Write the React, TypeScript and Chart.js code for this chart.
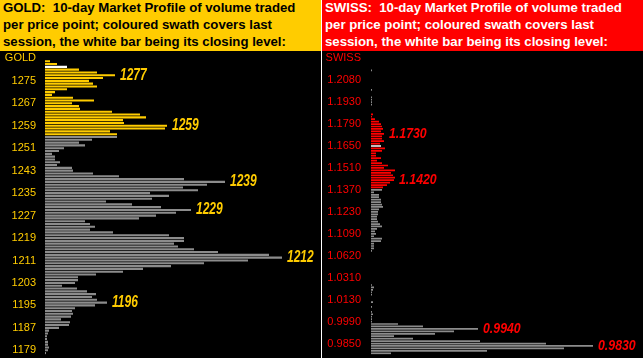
import React, { useEffect, useRef } from 'react';
import { Chart, registerables } from 'chart.js';

Chart.register(...registerables);

// ---------- GOLD (one row per $1, from 1283 down to 1178) ----------
const goldTopPrice = 1283;
const goldVolumes = [
  0, 5, 12, 22, 34, 52, 70, 58, 44, 48,
  52, 22, 10, 7, 28, 49, 27, 34, 35, 67,
  95, 101, 78, 79, 122, 120, 65, 72, 72, 47,
  34, 40, 19, 14, 7, 10, 10, 15, 12, 27,
  28, 48, 74, 139, 180, 162, 138, 153, 105, 124,
  107, 61, 87, 116, 146, 131, 111, 94, 40, 45,
  50, 45, 68, 124, 139, 139, 129, 133, 149, 173,
  224, 237, 203, 159, 126, 98, 78, 51, 33, 33,
  30, 17, 32, 42, 51, 47, 52, 62, 50, 30,
  27, 28, 26, 16, 25, 24, 14, 4, 3, 2,
  2, 3, 3, 4, 3, 1,
];
const goldCategories = goldVolumes.map((_, i) => String(goldTopPrice - i));
const goldTicks = ['GOLD', '1275', '1267', '1259', '1251', '1243', '1235', '1227', '1219', '1211', '1203', '1195', '1187', '1179'];
const goldSwath = ['1282', '1256'];
const goldClose = '1280';
const goldNotes = ['1277', '1259', '1239', '1229', '1212', '1196'];

// ---------- SWISS (rows of the profile, top to bottom) ----------
const swissVolumes = [
  0, 0, 0, 0, 0, 1, 0, 0, 0, 0,
  0, 0, 0, 1, 0, 0, 1, 1, 1, 1,
  0, 0, 0, 2, 1, 4, 8, 10, 11, 12,
  10, 13, 11, 11, 13, 9, 10, 14, 11, 5,
  5, 10, 6, 11, 17, 13, 24, 20, 22, 24,
  23, 19, 16, 12, 11, 3, 8, 8, 10, 10,
  11, 12, 8, 7, 7, 6, 6, 7, 9, 11,
  6, 4, 5, 3, 11, 10, 3, 3, 3, 1,
  0, 0, 0, 0, 0, 0, 0, 0, 0, 0,
  0, 0, 0, 1, 3, 2, 1, 1, 0, 0,
  2, 0, 1, 0, 1, 2, 1, 1, 1, 27,
  52, 107, 83, 64, 23, 42, 109, 175, 222, 193,
  116, 20,
];
const swissCategories = swissVolumes.map((_, i) => 'r' + i);
const swissTicks = ['SWISS', '1.2080', '1.1930', '1.1790', '1.1650', '1.1510', '1.1370', '1.1230', '1.1090', '1.0620', '1.0310', '1.0130', '0.9990', '0.9850'];
const swissSwath = ['r23', 'r53'];
const swissClose = 'r36';
const swissNoteRows = ['r31', 'r50', 'r111', 'r118'];
const swissNotes = ['1.1730', '1.1420', '0.9940', '0.9830'];

const GOLD = '#ffcc00';
const RED = '#ff0000';
const GREY = '#8c8c8c';

type PanelProps = {
  categories: string[];
  volumes: number[];
  ticks: string[];
  tickEvery: number;
  swath: string[];
  close: string;
  noteRows: string[];
  notes: string[];
  colour: string;
  width: number;
  axisWidth: number;
  tickPad: number;
  xMax: number;
  barPct: number;
  noteSize: number;
  noteScale: number;
};

function Panel(p: PanelProps) {
  const ref = useRef<HTMLCanvasElement>(null);
  useEffect(() => {
    const canvas = ref.current!;
    const i0 = p.categories.indexOf(p.swath[0]);
    const i1 = p.categories.indexOf(p.swath[1]);
    const ic = p.categories.indexOf(p.close);
    const colours = p.categories.map((_, i) =>
      i === ic ? '#ffffff' : i >= i0 && i <= i1 ? p.colour : GREY
    );
    const notesPlugin = {
      id: 'notes',
      afterDatasetsDraw(chart: any) {
        const ctx = chart.ctx;
        const meta = chart.getDatasetMeta(0);
        p.noteRows.forEach((row, k) => {
          const el = meta.data[p.categories.indexOf(row)];
          if (!el) return;
          ctx.save();
          ctx.font = `italic bold ${p.noteSize}px "Liberation Sans", Arial, sans-serif`;
          ctx.fillStyle = p.colour;
          ctx.textBaseline = 'middle';
          ctx.textAlign = 'left';
          ctx.translate(el.x + 5, el.y);
          ctx.scale(p.noteScale, 1);
          ctx.fillText(p.notes[k], 0, 0);
          ctx.restore();
        });
      },
    };
    const chart = new Chart(canvas, {
      type: 'bar',
      data: {
        labels: p.categories,
        datasets: [
          {
            data: p.volumes,
            backgroundColor: colours,
            borderWidth: 0,
            barPercentage: p.barPct,
            categoryPercentage: 1,
          },
        ],
      },
      options: {
        indexAxis: 'y',
        animation: false,
        responsive: false,
        devicePixelRatio: 1,
        layout: { padding: { top: 6, bottom: 3.5, left: 0, right: 0 } },
        plugins: { legend: { display: false }, tooltip: { enabled: false } },
        scales: {
          x: { display: false, min: 0, max: p.xMax },
          y: {
            type: 'category',
            grid: { display: false, drawTicks: false },
            border: { display: false },
            afterFit: (s: any) => {
              s.width = p.axisWidth;
              s.paddingTop = 0;
              s.paddingBottom = 0;
            },
            ticks: {
              autoSkip: false,
              padding: p.tickPad,
              color: p.colour,
              font: { family: '"Liberation Sans", Arial, sans-serif', size: 11 },
              callback: (_v: any, i: number) =>
                i % p.tickEvery === 0 ? p.ticks[i / p.tickEvery] ?? '' : '',
            },
          },
        },
      },
      plugins: [notesPlugin],
    } as any);
    return () => chart.destroy();
  }, []);
  return <canvas ref={ref} width={p.width} height={307} style={{ display: 'block' }} />;
}

const headerLines = [
  ': 10-day Market Profile of volume traded',
  'per price point; coloured swath covers last',
  'session, the white bar being its closing level:',
];

function Header({ name, bg, fg, width }: { name: string; bg: string; fg: string; width: number }) {
  return (
    <div
      style={{
        width,
        height: 51,
        background: bg,
        color: fg,
        fontFamily: '"Liberation Sans", Arial, sans-serif',
        fontWeight: 'bold',
        fontSize: 13.2,
        lineHeight: '16.8px',
        paddingLeft: 3,
        boxSizing: 'border-box',
        whiteSpace: 'pre',
        overflow: 'hidden',
      }}
    >
      {headerLines.map((l, i) => (
        <div key={i}>{i === 0 ? name + l.replace(': ', ':  ') : l}</div>
      ))}
    </div>
  );
}

export default function App() {
  useEffect(() => {
    document.body.style.margin = '0';
  }, []);
  return (
    <div
      style={{
        position: 'fixed',
        left: 0,
        top: 0,
        width: 643,
        height: 358,
        background: '#000',
        display: 'flex',
        overflow: 'hidden',
      }}
    >
      <div style={{ width: 321 }}>
        <Header name="GOLD" bg={GOLD} fg="#000" width={321} />
        <Panel
          categories={goldCategories}
          volumes={goldVolumes}
          ticks={goldTicks}
          tickEvery={8}
          swath={goldSwath}
          close={goldClose}
          noteRows={goldNotes}
          notes={goldNotes}
          colour={GOLD}
          width={321}
          axisWidth={45}
          tickPad={9}
          xMax={276}
          barPct={0.75}
          noteSize={16}
          noteScale={0.75}
        />
      </div>
      <div style={{ width: 1, background: '#fff' }} />
      <div style={{ width: 321 }}>
        <Header name="SWISS" bg={RED} fg="#fff" width={321} />
        <Panel
          categories={swissCategories}
          volumes={swissVolumes}
          ticks={swissTicks}
          tickEvery={9}
          swath={swissSwath}
          close={swissClose}
          noteRows={swissNoteRows}
          notes={swissNotes}
          colour={RED}
          width={321}
          axisWidth={49}
          tickPad={10}
          xMax={272}
          barPct={0.7}
          noteSize={14}
          noteScale={0.88}
        />
      </div>
    </div>
  );
}
